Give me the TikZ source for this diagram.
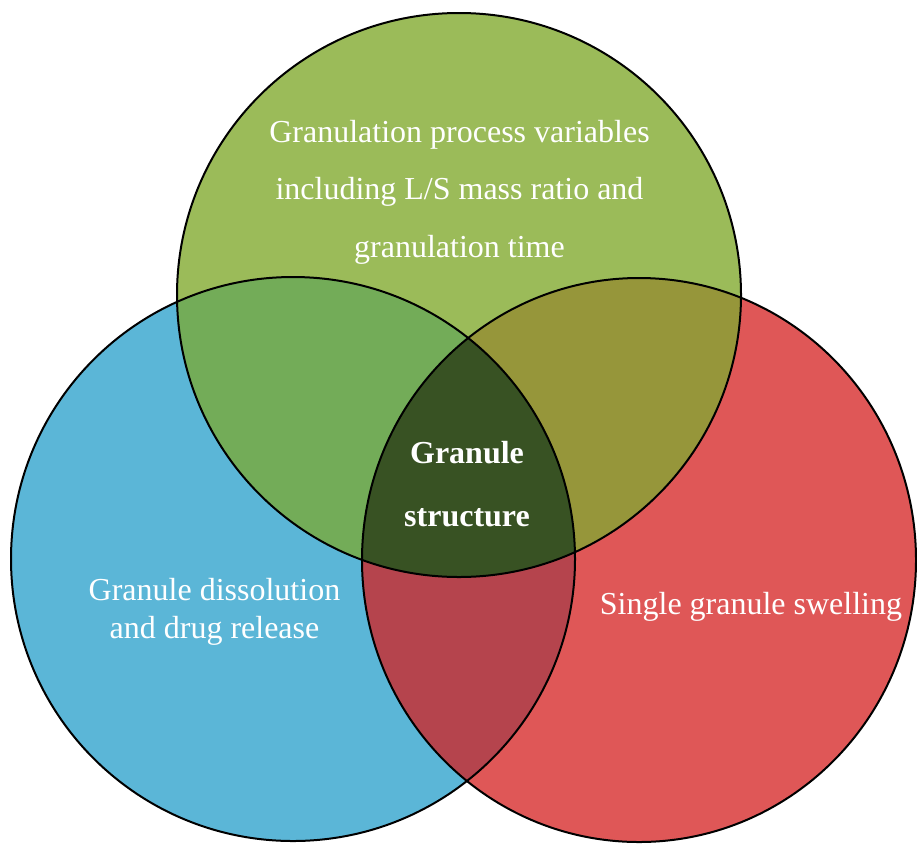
\documentclass[tikz,border=0pt]{standalone}
\usepackage{fontspec}
\setmainfont{Liberation Serif}
\definecolor{cgreen}{HTML}{9BBB59}
\definecolor{cblue}{HTML}{5BB6D7}
\definecolor{cred}{HTML}{DF5757}
\definecolor{cgb}{HTML}{73AC58}
\definecolor{cgr}{HTML}{96963A}
\definecolor{cbr}{HTML}{B5444D}
\definecolor{ccen}{HTML}{385223}
\tikzset{
  lbl/.style={text=white, align=center, inner sep=0pt},
  outline/.style={draw=black, line width=2pt}
}
\begin{document}
\begin{tikzpicture}[x=1pt,y=-1pt]
\useasboundingbox (0,0) rectangle (917,844);
\def\vG{(459,295) circle (282pt)}
\def\vB{(293,559) circle (282pt)}
\def\vR{(639,560) ellipse [x radius=277pt, y radius=282pt]}
\fill[cblue] \vB;
\fill[cred] \vR;
\fill[cgreen] \vG;
\begin{scope}\clip \vG; \fill[cgb] \vB; \end{scope}
\begin{scope}\clip \vG; \fill[cgr] \vR; \end{scope}
\begin{scope}\clip \vB; \fill[cbr] \vR; \end{scope}
\begin{scope}\clip \vG; \clip \vB; \fill[ccen] \vR; \end{scope}
\draw[outline] \vB;
\draw[outline] \vR;
\draw[outline] \vG;
\node[lbl, font=\fontsize{32}{57.5}\selectfont] (top) at (459.5,192)
  {Granulation process variables\\including L/S mass ratio and\\granulation time};
\node[lbl, font=\bfseries\fontsize{32}{63}\selectfont] (cen) at (467,484)
  {Granule\\structure};
\node[lbl, font=\fontsize{32}{38}\selectfont] (left) at (214.5,612)
  {Granule dissolution\\and drug release};
\node[lbl, font=\fontsize{32}{38}\selectfont] (right) at (751,607)
  {Single granule swelling};
\end{tikzpicture}
\end{document}
